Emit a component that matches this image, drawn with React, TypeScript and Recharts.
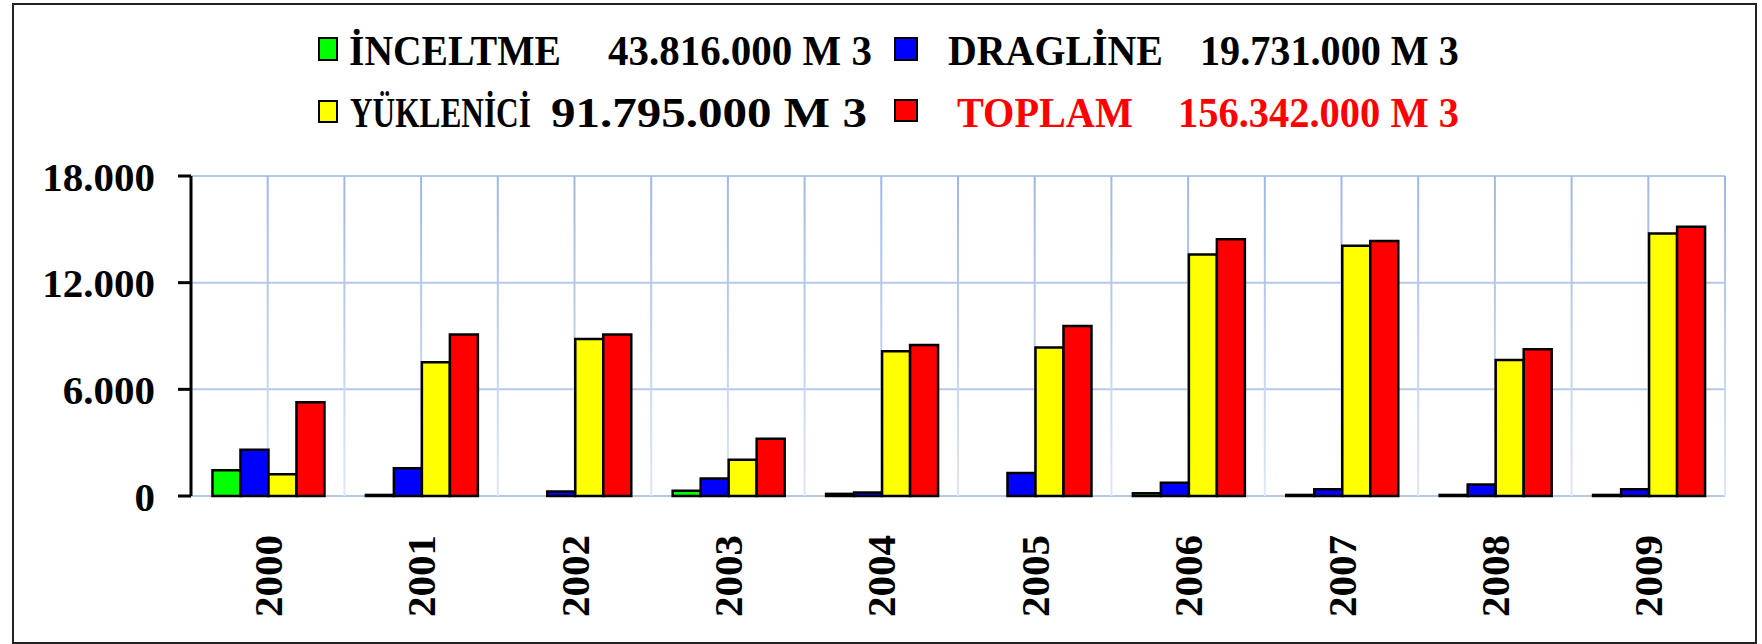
import React from 'react';
import { BarChart, Bar, XAxis, YAxis, CartesianGrid, Legend } from 'recharts';

const years = ['2000', '2001', '2002', '2003', '2004', '2005', '2006', '2007', '2008', '2009'];
const inceltme = [1450, 60, 0, 300, 120, 0, 150, 60, 60, 60];
const dragline = [2600, 1560, 250, 980, 200, 1300, 750, 380, 650, 380];
const yuklenici = [1220, 7520, 8830, 2040, 8140, 8360, 13590, 14080, 7650, 14770];
const toplam = [5270, 9090, 9090, 3220, 8490, 9560, 14440, 14340, 8250, 15150];

const seriesKeys = ['inceltme', 'dragline', 'yuklenici', 'toplam'];
const seriesNames = ['İNCELTME', 'DRAGLİNE', 'YÜKLENİCİ', 'TOPLAM'];
const seriesTotals = ['43.816.000 M 3', '19.731.000 M 3', '91.795.000 M 3', '156.342.000 M 3'];
const seriesColors = ['#00ff00', '#0000ff', '#ffff00', '#ff0000'];
const legendTextColors = ['#000000', '#000000', '#000000', '#ff0000'];
const yTicks = [0, 6000, 12000, 18000];

const data = years.map((year, i) => ({
  year,
  inceltme: inceltme[i],
  dragline: dragline[i],
  yuklenici: yuklenici[i],
  toplam: toplam[i],
}));

const FONT = "'Liberation Serif', 'Times New Roman', serif";
const LEG_FONT_SIZE = 42;

// legend layout (pixel placement only)
const LEG_MARK = [
  { x: 319, y: 38, w: 18, h: 22 },
  { x: 895, y: 38, w: 22, h: 22 },
  { x: 319, y: 101, w: 18, h: 21 },
  { x: 895, y: 100, w: 22, h: 21 },
];
const LEG_NAME = [
  { x: 349, len: 212 },
  { x: 948, len: 215 },
  { x: 350, len: 181 },
  { x: 957, len: 176 },
];
const LEG_VAL = [
  { x: 608, len: 264 },
  { x: 1200, len: 259 },
  { x: 551, len: 316 },
  { x: 1178, len: 281 },
];
const LEG_BASE = [65, 65, 127, 127];

let measureCtx: CanvasRenderingContext2D | null = null;
const measure = (s: string) => {
  if (!measureCtx) {
    const c = document.createElement('canvas');
    measureCtx = c.getContext('2d');
  }
  if (!measureCtx) return s.length * LEG_FONT_SIZE * 0.6;
  measureCtx.font = `bold ${LEG_FONT_SIZE}px 'Liberation Serif', 'Times New Roman', serif`;
  return measureCtx.measureText(s).width;
};

const FitText = ({ x, y, len, color, children }: any) => {
  const natural = measure(children);
  const sx = natural > 0 ? len / natural : 1;
  return (
    <text
      x={0}
      y={0}
      transform={`translate(${x}, ${y}) scale(${sx.toFixed(4)}, 1)`}
      fontFamily={FONT}
      fontWeight="bold"
      fontSize={LEG_FONT_SIZE}
      fill={color}
    >
      {children}
    </text>
  );
};

const renderLegend = () => (
  <svg width={1762} height={150} style={{ display: 'block' }}>
    <defs>
      <linearGradient id="vgridGrad" gradientUnits="userSpaceOnUse" x1="0" y1="176" x2="0" y2="496">
        <stop offset="0%" stopColor="#9fb8e3" />
        <stop offset="100%" stopColor="#dfe7f5" />
      </linearGradient>
    </defs>
    {seriesNames.map((name, i) => (
      <g key={name}>
        <rect
          x={LEG_MARK[i].x}
          y={LEG_MARK[i].y}
          width={LEG_MARK[i].w}
          height={LEG_MARK[i].h}
          fill={seriesColors[i]}
          stroke="#000"
          strokeWidth={2}
        />
        <FitText x={LEG_NAME[i].x} y={LEG_BASE[i]} len={LEG_NAME[i].len} color={legendTextColors[i]}>
          {name}
        </FitText>
        <FitText x={LEG_VAL[i].x} y={LEG_BASE[i]} len={LEG_VAL[i].len} color={legendTextColors[i]}>
          {seriesTotals[i]}
        </FitText>
      </g>
    ))}
  </svg>
);

const fmtY = (v: number) => (v === 0 ? '0' : String(v).replace(/(\d)(?=(\d{3})+$)/g, '$1.'));

const XTick = (props: any) => {
  const { x, y, payload } = props;
  const bx = x + 14;
  const by = y + 39;
  return (
    <text
      x={bx}
      y={by}
      transform={`rotate(-90, ${bx}, ${by})`}
      textAnchor="end"
      fontFamily={FONT}
      fontWeight="bold"
      fontSize={41}
      fill="#000"
    >
      {payload.value}
    </text>
  );
};

const vGen = (props: any) => {
  const off = props.offset;
  const pts: number[] = [];
  for (let k = 1; k <= years.length * 2; k++) pts.push(off.left + (k * off.width) / (years.length * 2));
  return pts;
};

export default function App() {
  return (
    <div style={{ position: 'absolute', left: 0, top: 0, width: 1762, height: 644, background: '#fff' }}>
      <BarChart
        width={1762}
        height={644}
        data={data}
        margin={{ top: 176, right: 37, bottom: 0, left: 0 }}
        barCategoryGap="14%"
        barGap={0}
      >
        <CartesianGrid vertical={false} stroke="#b6c8ea" strokeWidth={2} />
        <CartesianGrid
          horizontal={false}
          verticalCoordinatesGenerator={vGen}
          stroke="url(#vgridGrad)"
          strokeWidth={2}
        />
        <XAxis
          dataKey="year"
          axisLine={false}
          tickLine={false}
          tickSize={0}
          tickMargin={0}
          height={148}
          interval={0}
          tick={<XTick />}
        />
        <YAxis
          domain={[0, 18000]}
          ticks={yTicks}
          interval={0}
          tickFormatter={fmtY}
          width={191}
          axisLine={{ stroke: '#000', strokeWidth: 3 }}
          tickLine={{ stroke: '#000', strokeWidth: 3 }}
          tickSize={13}
          tickMargin={23}
          tick={{ fontFamily: FONT, fontWeight: 'bold', fontSize: 41, fill: '#000' }}
        />
        <Legend
          content={renderLegend}
          layout="horizontal"
          verticalAlign="middle"
          align="center"
          wrapperStyle={{ top: 0, left: 0, width: 1762, height: 150, margin: 0 }}
        />
        {seriesKeys.map((k, i) => (
          <Bar
            key={k}
            dataKey={k}
            name={seriesNames[i]}
            fill={seriesColors[i]}
            stroke="#000"
            strokeWidth={2.5}
            isAnimationActive={false}
          />
        ))}
      </BarChart>
      <div
        style={{
          position: 'absolute',
          left: 12,
          top: 3,
          width: 1745,
          height: 641,
          border: '2px solid #222',
          boxSizing: 'border-box',
          pointerEvents: 'none',
        }}
      />
    </div>
  );
}
